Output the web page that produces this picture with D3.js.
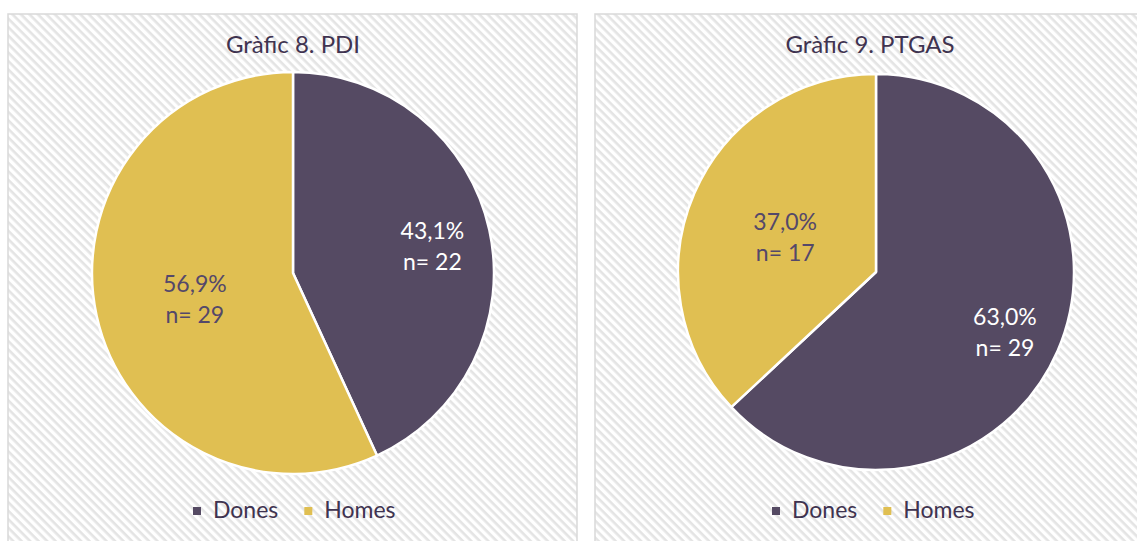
<!DOCTYPE html>
<html>
<head>
<meta charset="utf-8">
<script src="https://cdn.jsdelivr.net/npm/d3@7"></script>
<style>
  body { margin: 0; background: #fff; }
  svg { display: block; font-family: Lato, "Open Sans", sans-serif; }
</style>
</head>
<body>
<svg width="1137" height="541"></svg>
<script>
// data
const categories = ["Dones", "Homes"];
const chartTitles = ["Gràfic 8. PDI", "Gràfic 9. PTGAS"];
const pdiCounts = [22, 29];
const pdiPct = ["43,1%", "56,9%"];
const ptgasCounts = [29, 17];
const ptgasPct = ["63,0%", "37,0%"];

const colors = d3.scaleOrdinal().domain(categories).range(["#554a63", "#e0bf52"]);
const labelColors = d3.scaleOrdinal().domain(categories).range(["#ffffff", "#54486a"]);
// label distance from centre, as a fraction of the radius
const labelRadius = d3.scaleOrdinal().domain(categories).range([0.71, 0.5]);
const textDark = "#3f3350";

const svg = d3.select("svg");

// diagonal hatch background
const defs = svg.append("defs");
const pat = defs.append("pattern")
    .attr("id", "hatch")
    .attr("patternUnits", "userSpaceOnUse")
    .attr("width", 6).attr("height", 6)
    .attr("patternTransform", "rotate(45)");
pat.append("rect").attr("width", 6).attr("height", 6).attr("fill", "#fff");
pat.append("rect").attr("width", 6).attr("height", 2.6).attr("fill", "#e4e4e4");

const panels = [
    {x: 8, y: 14, w: 569, h: 540, cx: 293, cy: 273, r: 201, titleX: 293, title: chartTitles[0], counts: pdiCounts, pct: pdiPct, legendX: 193},
    {x: 595, y: 14, w: 560, h: 540, cx: 876, cy: 272, r: 198, titleX: 870, title: chartTitles[1], counts: ptgasCounts, pct: ptgasPct, legendX: 772}
];

const pie = d3.pie().sort(null).value(d => d.n);

panels.forEach(p => {
    const g = svg.append("g");
    g.append("rect")
        .attr("x", p.x).attr("y", p.y)
        .attr("width", p.w).attr("height", p.h)
        .attr("fill", "url(#hatch)")
        .attr("stroke", "#d9d9d9")
        .attr("stroke-width", 1.5);

    g.append("text")
        .attr("x", p.titleX).attr("y", 53)
        .attr("text-anchor", "middle")
        .attr("fill", textDark)
        .style("font-size", "24px")
        .text(p.title);

    const data = categories.map((c, i) => ({cat: c, n: p.counts[i], pct: p.pct[i]}));
    const arcs = pie(data);
    const arc = d3.arc().innerRadius(0).outerRadius(p.r);

    const pg = g.append("g").attr("transform", `translate(${p.cx},${p.cy})`);
    pg.selectAll("path").data(arcs).enter().append("path")
        .attr("d", arc)
        .attr("fill", d => colors(d.data.cat))
        .attr("stroke", "#fff")
        .attr("stroke-width", 2.5)
        .attr("stroke-linejoin", "round");

    const lbl = pg.selectAll("text.lbl").data(arcs).enter().append("text")
        .attr("class", "lbl")
        .attr("text-anchor", "middle")
        .attr("fill", d => labelColors(d.data.cat))
        .style("font-size", "23px")
        .attr("transform", d => {
            const lr = p.r * labelRadius(d.data.cat);
            return `translate(${d3.arc().innerRadius(lr).outerRadius(lr).centroid(d)})`;
        });
    lbl.append("tspan").attr("x", 0).attr("y", -3).text(d => d.data.pct);
    lbl.append("tspan").attr("x", 0).attr("y", 28).text(d => "n= " + d.data.n);

    // legend
    const lg = g.append("g").attr("transform", `translate(${p.legendX},518)`);
    let off = 0;
    categories.forEach(c => {
        lg.append("rect")
            .attr("x", off).attr("y", -11)
            .attr("width", 8).attr("height", 8)
            .attr("fill", colors(c));
        const t = lg.append("text")
            .attr("x", off + 20).attr("y", 0)
            .attr("fill", textDark)
            .style("font-size", "23px")
            .text(c);
        off += 20 + t.node().getComputedTextLength() + 26;
    });
});
</script>
</body>
</html>
